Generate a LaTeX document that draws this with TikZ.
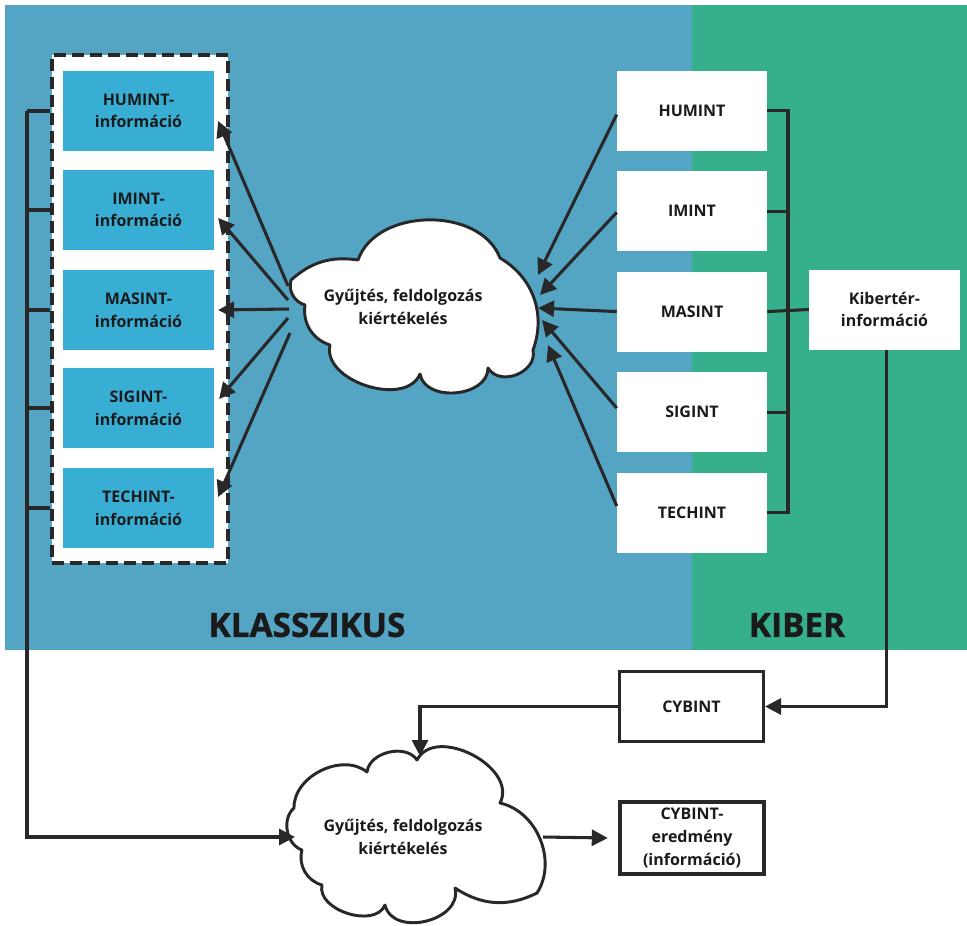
\documentclass[tikz,border=0pt]{standalone}
\usepackage{fontspec}
\setmainfont{Open Sans}
\newfontfamily\regionfamily[BoldFeatures={FakeBold=1.2}]{Open Sans}
\usepackage{tikz}
\usetikzlibrary{arrows.meta}
\usetikzlibrary{positioning}

\definecolor{klblue}{RGB}{84,164,195}
\definecolor{kigreen}{RGB}{54,176,140}
\definecolor{infocyan}{RGB}{57,174,213}
\definecolor{linegray}{RGB}{40,40,40}
\definecolor{txtblack}{RGB}{26,26,26}

\newcommand{\boxfont}{\fontsize{12}{17}\selectfont\bfseries}
\newcommand{\bigfont}{\regionfamily\fontsize{25}{30}\selectfont\bfseries}

\tikzset{
  kbox/.style={fill=infocyan,minimum width=113pt,minimum height=60pt,inner sep=0pt,align=center,text=txtblack,font=\boxfont},
  wbox/.style={fill=white,minimum width=112.5pt,minimum height=60pt,inner sep=0pt,align=center,text=txtblack,font=\boxfont},
  obox/.style={draw=linegray,line width=2.3pt,fill=white,minimum width=108pt,minimum height=53pt,inner sep=0pt,align=center,text=txtblack,font=\boxfont},
  dashbox/.style={draw=linegray,line width=2.4pt,fill=white,dash pattern=on 9pt off 4.5pt,minimum width=132pt,minimum height=381pt,inner sep=0pt},
  conn/.style={draw=linegray,line width=2.3pt},
  cloudline/.style={draw=linegray,line width=2.2pt,fill=white,line join=round},
  gytext/.style={align=center,text=txtblack,font=\boxfont},
  regiontext/.style={text=txtblack,font=\bigfont},
}

\begin{document}
\begin{tikzpicture}[line cap=butt,line join=miter,>={Triangle[length=12pt,width=12pt]},x=0.75pt,y=-0.75pt]
\useasboundingbox (0,0) rectangle (967,925);
% hatter
\fill[klblue] (5,5) rectangle (692,650);
\fill[kigreen] (692,5) rectangle (967,650);
\node[regiontext] (klass) at (307,625) {KLASSZIKUS};
\node[regiontext] (kiber) at (797,625) {KIBER};

% klasszikus informaciok
\node[dashbox] (frame) at (140,309) {};
\node[kbox] (hum) at (138.5,111) {HUMINT-\\információ};
\node[kbox] (imi) at (138.5,210) {IMINT-\\információ};
\node[kbox] (mas) at (138.5,310) {MASINT-\\információ};
\node[kbox] (sig) at (138.5,408) {SIGINT-\\információ};
\node[kbox] (tec) at (138.5,508) {TECHINT-\\információ};

% forrasok
\node[wbox] (ehum) at (692,110.5) {HUMINT};
\node[wbox,below=15pt of ehum] (eimi) {IMINT};
\node[wbox,below=15pt of eimi] (emas) {MASINT};
\node[wbox,below=15pt of emas] (esig) {SIGINT};
\node[wbox,below=15pt of esig] (etec) {TECHINT};
\node[wbox,minimum width=113pt] (kib) at (884.5,309.5) {Kibertér-\\információ};

% felso felho
\draw[cloudline] (291,280) to[bend left=25] (358,260) to[bend left=70] (500,258)
  to[bend left=40] (533,350) to[bend left=80,looseness=1.2] (488,368)
  to[bend left=85,looseness=1.1] (420,374) to[bend left=85] (330,345)
  to[bend left=40] (305,305) to[bend left=45] (291,280) -- cycle;
\node[gytext] (gy1) at (403,307) {Gyűjtés, feldolgozás\\kiértékelés};
\coordinate (gy1w) at (289,309);
\coordinate (gy1e) at (540,308);

% also felho
\draw[cloudline] (367,772) to[bend left=70] (417,760) to[bend left=90,looseness=1.1] (500,803)
  to[bend left=55] (537,893) to[bend left=30] (455,888)
  to[bend left=90,looseness=1.2] (385,905) to[bend left=85] (322,885)
  to[bend left=45] (302,850) to[bend left=60] (294,808) to[bend left=65] (367,772) -- cycle;
\node[gytext] (gy2) at (403,837) {Gyűjtés, feldolgozás\\kiértékelés};
\coordinate (gy2n) at (420,756);
\coordinate (gy2w) at (295,837);
\coordinate (gy2e) at (543,837);

% kiber ag
\node[obox] (cyb) at (691.5,706.5) {CYBINT};
\node[obox,minimum height=54pt] (res) at (692,838) {CYBINT-\\eredmény\\(információ)};

% nyilak a felhobol
\draw[conn,->] ([shift={(-1,-23)}]gy1w) -- ([shift={(4,10)}]hum.east);
\draw[conn,->] ([shift={(-1,-9)}]gy1w) -- ([shift={(4,8)}]imi.east);
\draw[conn,->] (gy1w) -- ([shift={(4,0)}]mas.east);
\draw[conn,->] ([shift={(-1,9)}]gy1w) -- ([shift={(5,-9)}]sig.east);
\draw[conn,->] ([shift={(1,24)}]gy1w) -- ([shift={(4,-11)}]tec.east);

% nyilak a felhobe
\draw[conn,->] ([yshift=-3pt]ehum.west) -- ([shift={(-2,-33)}]gy1e);
\draw[conn,->] ([yshift=-1pt]eimi.west) -- ([shift={(0,-13)}]gy1e);
\draw[conn,->] (emas.west) -- ([shift={(-2,0)}]gy1e);
\draw[conn,->] ([yshift=3pt]esig.west) -- ([shift={(2,12)}]gy1e);
\draw[conn,->] ([yshift=5pt]etec.west) -- ([shift={(8,37)}]gy1e);

% gyujtovonalak
\coordinate (lbus) at (27,837);
\draw[conn,->] (hum -| lbus) -- (lbus) -- (gy2w);
\foreach \n in {hum,imi,mas,sig,tec}
  \draw[conn] (\n -| lbus) -- (\n -| frame.west);
\coordinate (rbus) at (788,310);
\draw[conn] (ehum.east) -- (ehum -| rbus) -- (etec -| rbus) -- (etec.east);
\draw[conn] (eimi.east) -- (eimi -| rbus);
\draw[conn] (esig.east) -- (esig -| rbus);
\draw[conn] (emas.east) -- (kib.west);

\draw[conn,->] ([xshift=1.5pt]kib.south) -- ([xshift=1.5pt]kib.south |- cyb) -- (cyb.east);
\draw[conn,->] (cyb.west) -- (cyb.west -| gy2n) -- (gy2n);
\draw[conn,->] (gy2e) -- ([xshift=-8pt]res.west);
\end{tikzpicture}
\end{document}
